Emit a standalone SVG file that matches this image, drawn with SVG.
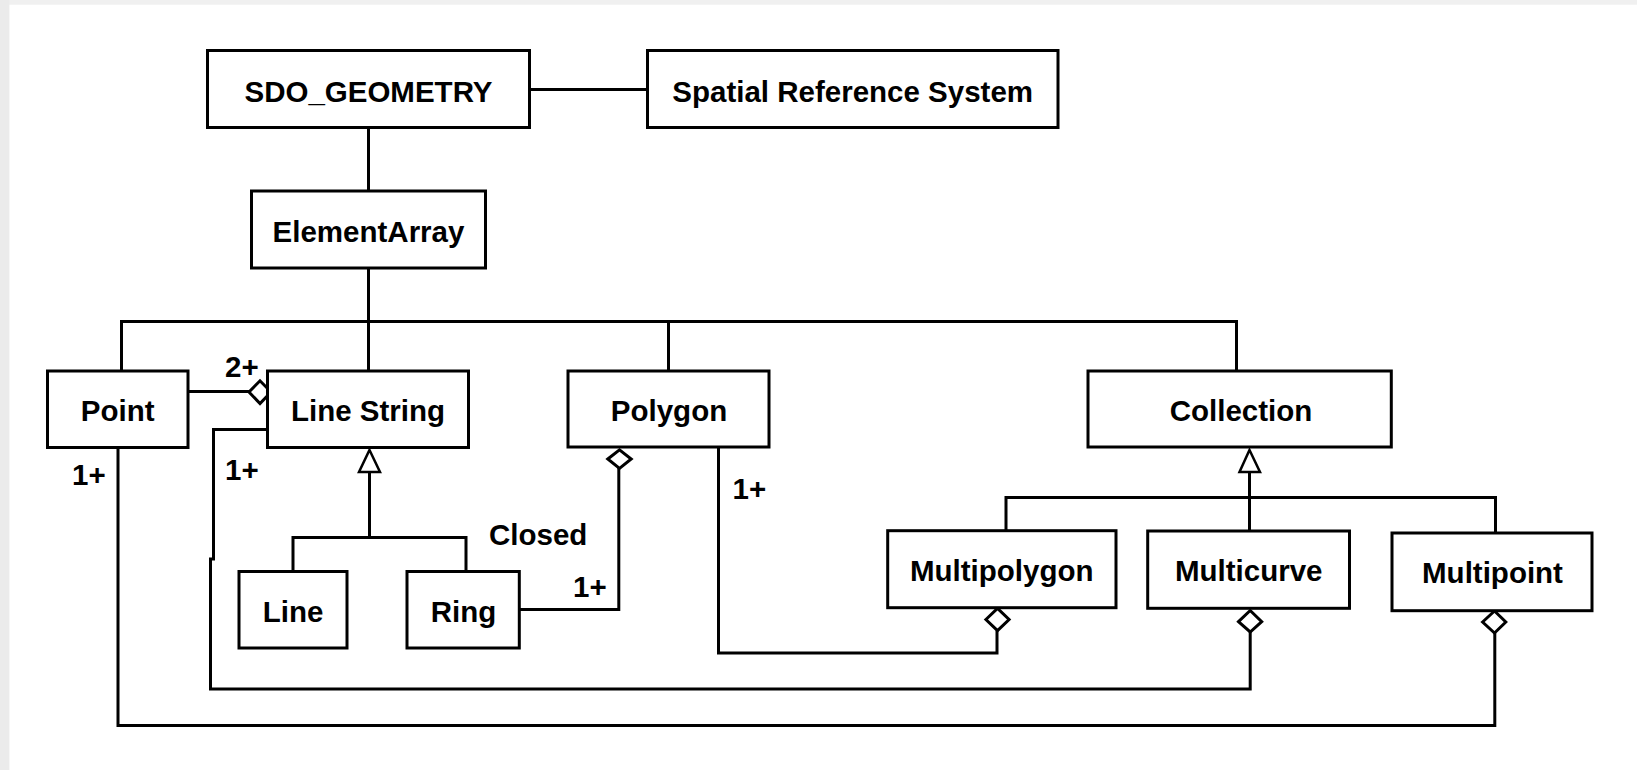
<svg xmlns="http://www.w3.org/2000/svg" width="1637" height="770" viewBox="0 0 1637 770">
  <style>
    .box { fill: #ffffff; stroke: #000000; stroke-width: 3; }
    .lbl { font-family: "Liberation Sans", Arial, sans-serif; font-weight: bold; font-size: 29.5px; fill: #000000; text-anchor: middle; }
    .mult { font-family: "Liberation Sans", Arial, sans-serif; font-weight: bold; font-size: 29.5px; fill: #000000; }
    .wire { fill: none; stroke: #000000; stroke-width: 3; }
    .agg { fill: #ffffff; stroke: #000000; stroke-width: 3; stroke-linejoin: miter; }
    .gen { fill: #ffffff; stroke: #000000; stroke-width: 2.5; }
  </style>

  <!-- page -->
  <rect x="0" y="0" width="1637" height="770" fill="#ffffff"/>
  <rect x="0" y="0" width="1637" height="4.7" fill="#f0f0f0"/>
  <rect x="0" y="0" width="9.4" height="770" fill="#ebebeb"/>

  <!-- connectors -->
  <g id="connectors">
    <!-- SDO_GEOMETRY to Spatial Reference System -->
    <path class="wire" d="M529.5 89.5 H647.5"/>
    <!-- SDO_GEOMETRY to ElementArray to the type bus -->
    <path class="wire" d="M368.5 127.5 V191"/>
    <path class="wire" d="M368.5 268 V371"/>
    <!-- type bus -->
    <path class="wire" d="M121.5 371 V321.5 H1236.5 V371"/>
    <path class="wire" d="M668.5 321.5 V371"/>

    <!-- Point aggregated by Line String (2+) -->
    <path class="wire" d="M188 391.5 H249"/>
    <polygon class="agg" points="249,392 260,380.8 271,392 260,403.5"/>

    <!-- Line String generalization -->
    <path class="wire" d="M369.5 472 V537.5 M293 571.5 V537.5 H466 V571.5"/>
    <polygon class="gen" points="369.5,450 380,472 359,472"/>

    <!-- Ring aggregated by Polygon (1+) -->
    <path class="wire" d="M519.3 609.5 H618.8 V468"/>
    <polygon class="agg" points="607.8,459 619.5,449.8 631.2,459 619.5,468.3"/>

    <!-- Polygon aggregated by Multipolygon (1+) -->
    <path class="wire" d="M718.5 447 V653 H997 V630.7"/>
    <polygon class="agg" points="985.9,619.5 997.5,608.4 1009.1,619.5 997.5,630.7"/>

    <!-- Line String aggregated by Multicurve (1+) -->
    <path class="wire" d="M267.5 429.5 H213.5 V559 H210.5 V689 H1250.2 V632"/>
    <polygon class="agg" points="1238.5,621.7 1250.2,610.5 1261.7,621.7 1250.2,632"/>

    <!-- Point aggregated by Multipoint (1+) -->
    <path class="wire" d="M118 447.5 V725.5 H1494.8 V633"/>
    <polygon class="agg" points="1482.6,622 1494.5,611 1505.8,622 1494.5,633"/>

    <!-- Collection generalization -->
    <path class="wire" d="M1249.5 472 V531 M1006 530.7 V497.5 H1495.5 V533"/>
    <polygon class="gen" points="1249.5,450 1260,472 1239.5,472"/>

    <!-- multiplicities and role -->
    <text class="mult" x="225" y="377">2+</text>
    <text class="mult" x="72" y="485">1+</text>
    <text class="mult" x="225" y="479.5">1+</text>
    <text class="mult" x="489" y="545">Closed</text>
    <text class="mult" x="573" y="597">1+</text>
    <text class="mult" x="732.5" y="498.5">1+</text>
  </g>

  <!-- nodes -->
  <g id="sdo-geometry">
    <rect class="box" x="207.5" y="50.5" width="322" height="77"/>
    <text class="lbl" x="368.5" y="101.5">SDO_GEOMETRY</text>
  </g>
  <g id="spatial-reference-system">
    <rect class="box" x="647.5" y="50.5" width="410.5" height="77"/>
    <text class="lbl" x="852.7" y="101.5">Spatial Reference System</text>
  </g>
  <g id="element-array">
    <rect class="box" x="251.5" y="191" width="234" height="77"/>
    <text class="lbl" x="368.5" y="241.7">ElementArray</text>
  </g>
  <g id="point">
    <rect class="box" x="47.5" y="371" width="140.5" height="76.5"/>
    <text class="lbl" x="117.7" y="420.7">Point</text>
  </g>
  <g id="line-string">
    <rect class="box" x="267.5" y="371" width="201" height="76.5"/>
    <text class="lbl" x="368" y="420.7">Line String</text>
  </g>
  <g id="polygon">
    <rect class="box" x="568" y="371" width="201" height="76"/>
    <text class="lbl" x="669" y="421">Polygon</text>
  </g>
  <g id="collection">
    <rect class="box" x="1088" y="371" width="303.3" height="76"/>
    <text class="lbl" x="1241" y="420.7">Collection</text>
  </g>
  <g id="line">
    <rect class="box" x="239" y="571.5" width="108" height="76.5"/>
    <text class="lbl" x="293" y="621.7">Line</text>
  </g>
  <g id="ring">
    <rect class="box" x="407" y="571.5" width="112.3" height="76.5"/>
    <text class="lbl" x="463.4" y="621.7">Ring</text>
  </g>
  <g id="multipolygon">
    <rect class="box" x="887.7" y="530.7" width="228.3" height="77"/>
    <text class="lbl" x="1001.7" y="580.7">Multipolygon</text>
  </g>
  <g id="multicurve">
    <rect class="box" x="1147.7" y="531" width="201.8" height="77.3"/>
    <text class="lbl" x="1248.7" y="581">Multicurve</text>
  </g>
  <g id="multipoint">
    <rect class="box" x="1392" y="533" width="200" height="77.7"/>
    <text class="lbl" x="1492.5" y="583.3">Multipoint</text>
  </g>
</svg>
